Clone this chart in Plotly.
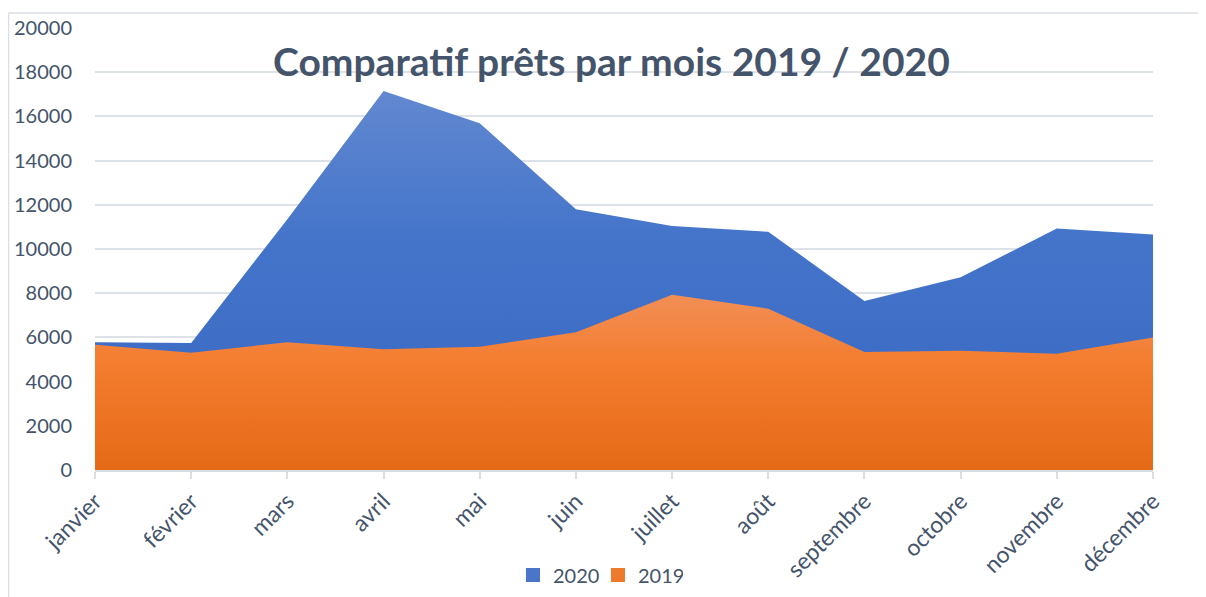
import plotly.graph_objects as go

months = ["janvier", "février", "mars", "avril", "mai", "juin", "juillet",
          "août", "septembre", "octobre", "novembre", "décembre"]
v2020 = [5780, 5750, 11350, 17150, 15690, 11800, 11040, 10780, 7650, 8720, 10930, 10660]
v2019 = [5670, 5310, 5780, 5460, 5580, 6230, 7930, 7300, 5340, 5400, 5260, 5990]
yticks = [0, 2000, 4000, 6000, 8000, 10000, 12000, 14000, 16000, 18000, 20000]

FONT = "Lato, Carlito, 'Open Sans', sans-serif"
TXT = "#44546A"
BLUE = "#4472C4"
ORANGE = "#ED7D31"

# page body has an 8px margin: design in screen coords, shift by OFF
OFF = 8
W, H = 1206, 597
L, R = 95 - OFF, W - (1153 - OFF)
T, B = 28 - OFF, H - (470 - OFF)
PW = W - L - R
PH = H - T - B


def px_x(sx):
    return (sx - OFF - L) / PW


def px_y(sy):
    return (H - B - (sy - OFF)) / PH


fig = go.Figure()
fig.add_trace(go.Scatter(
    x=months, y=v2020, name="2020", mode="lines", fill="tozeroy",
    line=dict(width=0, color=BLUE), showlegend=False,
    fillgradient=dict(type="vertical",
                      colorscale=[[0, "#3A66C0"], [0.6, "#4374CA"], [1, "#6288D0"]]),
    fillcolor=BLUE,
))
fig.add_trace(go.Scatter(
    x=months, y=v2019, name="2019", mode="lines", fill="tozeroy",
    line=dict(width=0, color=ORANGE), showlegend=False,
    fillgradient=dict(type="vertical",
                      colorscale=[[0, "#E56A17"], [0.6, "#F47C2E"], [1, "#F28F56"]]),
    fillcolor=ORANGE,
))
# legend entries (square swatches)
fig.add_trace(go.Scatter(x=[None], y=[None], name="2020", mode="markers",
                         marker=dict(symbol="square", size=14, color="#4A75C8")))
fig.add_trace(go.Scatter(x=[None], y=[None], name="2019", mode="markers",
                         marker=dict(symbol="square", size=14, color="#EE7A2C")))

fig.update_layout(
    width=W, height=H,
    margin=dict(l=L, r=R, t=T, b=B, autoexpand=False),
    paper_bgcolor="white", plot_bgcolor="white",
    font=dict(family=FONT, color=TXT, size=20),
    showlegend=True,
    legend=dict(orientation="h", x=px_x(598), xanchor="center",
                y=px_y(575), yanchor="middle",
                font=dict(size=20, color=TXT), traceorder="normal",
                itemwidth=30, entrywidth=40, bgcolor="rgba(0,0,0,0)"),
    annotations=[dict(text="<b>Comparatif prêts par mois 2019 / 2020</b>",
                      xref="paper", yref="paper", x=px_x(611), y=px_y(61),
                      xanchor="center", yanchor="middle", showarrow=False,
                      font=dict(size=39, color=TXT, family=FONT))],
    shapes=[
        dict(type="line", xref="paper", yref="paper",
             x0=px_x(8.5), x1=px_x(1220), y0=px_y(13), y1=px_y(13),
             line=dict(color="#DADFE6", width=1.5)),
        dict(type="line", xref="paper", yref="paper",
             x0=px_x(8.5), x1=px_x(8.5), y0=px_y(13), y1=px_y(620),
             line=dict(color="#DADFE6", width=1.5)),
    ],
)
fig.update_xaxes(
    range=[0, 11], tickangle=-45, showgrid=False,
    showline=True, linecolor="#D9DDE4", linewidth=1.5,
    ticks="outside", ticklen=7, tickcolor="#D9DDE4", tickwidth=1.5,
    tickfont=dict(size=23, color=TXT),
)
fig.update_yaxes(
    range=[0, 20000], tickvals=yticks, ticktext=[str(v) for v in yticks],
    showgrid=True, gridcolor="#DDE1E8", gridwidth=1.5,
    zeroline=False, showline=False,
    ticklabelstandoff=22, tickfont=dict(size=20, color=TXT),
)

fig.write_html("out.html")
